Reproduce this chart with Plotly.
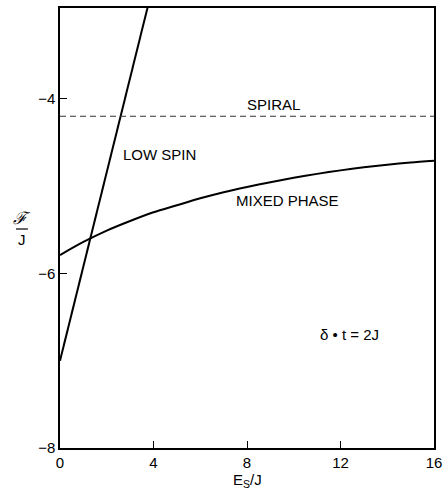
import plotly.graph_objects as go

# Data
mixed_x = [0, 1, 2, 3, 4, 5, 6, 7, 8, 9, 10, 11, 12, 13, 14, 15, 16]
mixed_y = [-5.79, -5.64, -5.51, -5.40, -5.30, -5.22, -5.14, -5.07, -5.01, -4.955,
           -4.905, -4.86, -4.82, -4.785, -4.755, -4.73, -4.71]
low_spin_x = [0, 4]
low_spin_y = [-7.0, -2.68]
spiral_x = [0, 16]
spiral_y = [-4.2, -4.2]
x_ticks = [0, 4, 8, 12, 16]
x_ticktext = ["0", "4", "8", "12", "16"]
y_ticks = [-8, -6, -4]
y_ticktext = ["\u22128", "\u22126", "\u22124"]

W, H = 448, 489
L, R, T, B = 59.5, 10, 6, 41
pw = W - L - R
ph = H - T - B

def px(xp):
    return (xp - L) / pw

def py(yp):
    return (H - B - yp) / ph

fig = go.Figure()
fig.add_trace(go.Scatter(x=mixed_x, y=mixed_y, mode="lines", line=dict(color="black", width=2, shape="spline", smoothing=0.8), showlegend=False))
fig.add_trace(go.Scatter(x=low_spin_x, y=low_spin_y, mode="lines", line=dict(color="black", width=2), showlegend=False))
fig.add_trace(go.Scatter(x=spiral_x, y=spiral_y, mode="lines", line=dict(color="#333", width=1.2, dash="6px,4px"), showlegend=False))

font = dict(family="Liberation Sans, Arial, sans-serif", size=15, color="black")

fig.update_layout(
    width=W, height=H,
    margin=dict(l=L, r=R, t=T, b=B, pad=0),
    plot_bgcolor="white", paper_bgcolor="white",
    font=font,
    xaxis=dict(range=[0, 16], tickvals=x_ticks, ticktext=x_ticktext, ticks="inside", ticklen=7,
               tickcolor="black", showline=True, linecolor="black", linewidth=1.5, mirror=True,
               showgrid=False, zeroline=False, tickfont=font),
    yaxis=dict(range=[-8, -2.96], tickvals=y_ticks, ticktext=y_ticktext, ticks="inside", ticklen=7,
               tickcolor="black", showline=True, linecolor="black", linewidth=1.5, mirror=True,
               showgrid=False, zeroline=False, tickfont=font),
)

ann_font = dict(family="Liberation Sans, Arial, sans-serif", size=15, color="black")
fig.add_annotation(x=9.15, y=-4.07, text="SPIRAL", showarrow=False, font=ann_font)
fig.add_annotation(x=4.25, y=-4.64, text="LOW SPIN", showarrow=False, font=ann_font)
fig.add_annotation(x=9.75, y=-5.16, text="MIXED PHASE", showarrow=False, font=ann_font)
fig.add_annotation(x=12.38, y=-6.70, text="\u03b4 \u2022 t = 2J", showarrow=False, font=ann_font)

fig.add_annotation(xref="paper", yref="paper", x=px(249), y=py(481), text="E<sub>S</sub>/J",
                   showarrow=False, font=font, xanchor="center", yanchor="middle")
fig.add_annotation(xref="paper", yref="paper", x=px(21), y=py(217), text="<i>\u2131</i>",
                   showarrow=False, font=dict(family="DejaVu Serif, serif", size=17, color="black"),
                   xanchor="center", yanchor="middle")
fig.add_annotation(xref="paper", yref="paper", x=px(21), y=py(239), text="J",
                   showarrow=False, font=font, xanchor="center", yanchor="middle")
fig.add_shape(type="line", xref="paper", yref="paper", x0=px(15), x1=px(27), y0=py(228), y1=py(228),
              line=dict(color="black", width=1.2))

fig.write_html("out.html")
